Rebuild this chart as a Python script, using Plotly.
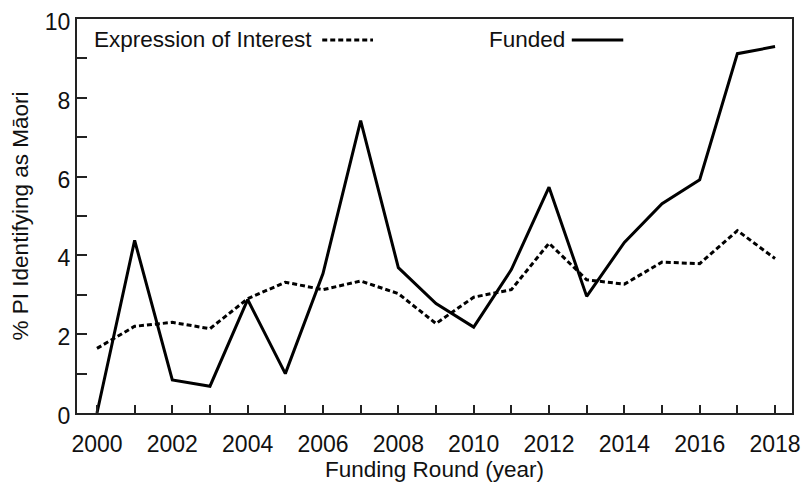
import plotly.graph_objects as go

years = list(range(2000, 2019))
eoi = [1.64, 2.20, 2.30, 2.14, 2.90, 3.32, 3.13, 3.35, 3.03, 2.27, 2.94, 3.13, 4.31, 3.38, 3.27, 3.83, 3.79, 4.63, 3.92]
funded = [0.0, 4.38, 0.84, 0.68, 2.88, 1.00, 3.54, 7.42, 3.69, 2.78, 2.18, 3.64, 5.73, 2.96, 4.33, 5.31, 5.92, 9.12, 9.30]
x_ticks = list(range(2000, 2019, 2))
y_ticks = list(range(0, 11, 2))

FONT = "Liberation Sans"
DASH = "5px,3px"
FS = 22.5
TFS = 23

fig = go.Figure()
fig.add_trace(go.Scatter(x=years, y=eoi, mode="lines", name="Expression of Interest",
                         line=dict(color="black", width=3, dash=DASH), showlegend=False))
fig.add_trace(go.Scatter(x=years, y=funded, mode="lines", name="Funded",
                         line=dict(color="black", width=3), showlegend=False, cliponaxis=False))

fig.update_layout(
    width=804, height=477,
    margin=dict(l=69, r=20, t=11, b=72),
    paper_bgcolor="white", plot_bgcolor="white",
    font=dict(family=FONT, size=FS, color="#111"),
    xaxis=dict(
        range=[1999.47, 2018.45], tickvals=x_ticks, ticktext=[str(v) for v in x_ticks],
        tickfont=dict(family=FONT, size=TFS), ticklabeloverflow="allow",
        ticks="inside", ticklen=8, tickwidth=2, tickcolor="#222",
        minor=dict(dtick=1, tick0=2000, ticks="inside", ticklen=8, tickwidth=2, tickcolor="#222"),
        showline=True, linewidth=2, linecolor="#222", mirror=True,
        showgrid=False, zeroline=False, ticklabelstandoff=9, automargin=False,
        title=dict(text="Funding Round (year)", standoff=6, font=dict(family=FONT, size=FS)),
    ),
    yaxis=dict(
        range=[0, 10], tickvals=y_ticks, ticktext=[str(v) for v in y_ticks],
        tickfont=dict(family=FONT, size=TFS), ticklabeloverflow="allow", ticklabelshift=3,
        ticks="inside", ticklen=10, tickwidth=2, tickcolor="#222",
        minor=dict(dtick=1, tick0=0, ticks="inside", ticklen=10, tickwidth=2, tickcolor="#222"),
        showline=True, linewidth=2, linecolor="#222", mirror=True,
        showgrid=False, zeroline=False, ticklabelstandoff=0, automargin=False,
        title=dict(text="% PI Identifying as Māori", standoff=18, font=dict(family=FONT, size=FS)),
    ),
    annotations=[
        dict(text="Expression of Interest", x=0.0204, y=0.947, xref="paper", yref="paper",
             xanchor="left", yanchor="middle", showarrow=False, font=dict(family=FONT, size=FS)),
        dict(text="Funded", x=0.573, y=0.947, xref="paper", yref="paper",
             xanchor="left", yanchor="middle", showarrow=False, font=dict(family=FONT, size=FS)),
    ],
    shapes=[
        dict(type="line", xref="paper", yref="paper", x0=0.343, x1=0.414, y0=0.947, y1=0.947,
             line=dict(color="black", width=3, dash=DASH)),
        dict(type="line", xref="paper", yref="paper", x0=0.692, x1=0.764, y0=0.947, y1=0.947,
             line=dict(color="black", width=3)),
    ],
)

fig.write_html("out.html")
